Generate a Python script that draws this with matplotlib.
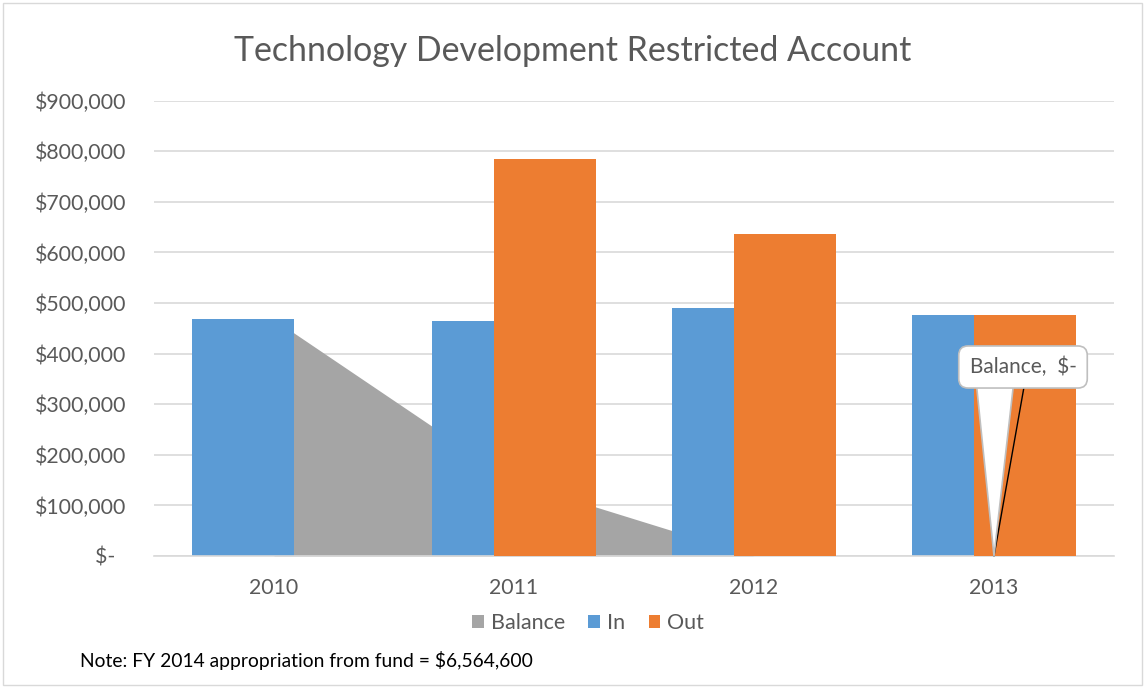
import matplotlib
matplotlib.use("Agg")
import matplotlib.pyplot as plt
from matplotlib.patches import Rectangle
from matplotlib.ticker import FuncFormatter
import numpy as np

years = ["2010", "2011", "2012", "2013"]
balance = [467500, 147000, 0, 0]
inflow = [467500, 464500, 489500, 476000]
outflow = [0, 785000, 636500, 476000]
yticks = [0, 100000, 200000, 300000, 400000, 500000, 600000, 700000, 800000, 900000]

GREY = "#A5A5A5"
BLUE = "#5B9BD5"
ORANGE = "#ED7D31"
TXT = "#595959"
GRID = "#D9D9D9"

plt.rcParams["font.family"] = ["Lato", "DejaVu Sans"]

fig = plt.figure(figsize=(11.45, 6.87), dpi=100)
ax = fig.add_axes([154/1145, 1-556/687, 960/1145, (556-100.7)/687])

x = np.arange(len(years))
w = 0.4267
off = 0.129

ax.fill_between(x, balance, 0, color=GREY, lw=0, zorder=1, label="Balance")
ax.bar(x - off, inflow, width=w, color=BLUE, zorder=2, label="In")
ax.bar(x + off, outflow, width=w, color=ORANGE, zorder=3, label="Out")

ax.set_xlim(-0.5, len(years) - 0.5)
ax.set_ylim(0, 900000)
ax.set_yticks(yticks)

def fmt(v, pos):
    if v == 0:
        return "$-  "
    return "${:,.0f}".format(v)

ax.yaxis.set_major_formatter(FuncFormatter(fmt))
ax.set_xticks(x)
ax.set_xticklabels(years)
ax.tick_params(axis="both", length=0, colors=TXT, labelsize=15.3)
ax.tick_params(axis="y", pad=20)
ax.tick_params(axis="x", pad=16)
ax.grid(axis="y", color=GRID, lw=1.2, zorder=0)
ax.set_axisbelow(True)
for s in ["top", "right", "left"]:
    ax.spines[s].set_visible(False)
ax.spines["bottom"].set_color(GRID)
ax.spines["bottom"].set_linewidth(1.2)

# callout for last balance point
pt = (x[3], balance[3])
ax.annotate("", xy=pt, xytext=(30, 169), textcoords="offset pixels",
            arrowprops=dict(arrowstyle="-", color="black", lw=1, shrinkA=0, shrinkB=0),
            zorder=5)
ax.annotate("", xy=pt, xytext=(1, 180), textcoords="offset pixels",
            arrowprops=dict(arrowstyle="wedge,tail_width=2.8,shrink_factor=0.5", fc="white",
                            ec="#BFBFBF", lw=1.2, shrinkA=0, shrinkB=0),
            zorder=6)
ax.annotate("Balance,  $-", xy=pt, xytext=(29, 189), textcoords="offset pixels",
            ha="center", va="center", fontsize=15, color=TXT, zorder=7,
            bbox=dict(boxstyle="round,pad=0.52,rounding_size=0.45", fc="white", ec="#BFBFBF", lw=1.2))

fig.text(573/1145, 1-51/687, "Technology Development Restricted Account", ha="center", va="center",
         fontsize=24.4, color=TXT)

handles, labels = ax.get_legend_handles_labels()
leg = fig.legend(handles, labels, loc="center", bbox_to_anchor=(588/1145, 1-623/687), ncol=3,
                 frameon=False, fontsize=15.5, labelcolor=TXT, handlelength=0.55, handleheight=0.55,
                 handletextpad=0.3, columnspacing=1.1)

fig.text(80/1145, 1-660/687, "Note: FY 2014 appropriation from fund = $6,564,600", ha="left", va="center",
         fontsize=13.9, color="black")

fig.patches.append(Rectangle((3/1145, 2/687), 1139/1145, 682/687, transform=fig.transFigure,
                             fill=False, ec="#D9D9D9", lw=1))

fig.savefig("out.png", dpi=100)
